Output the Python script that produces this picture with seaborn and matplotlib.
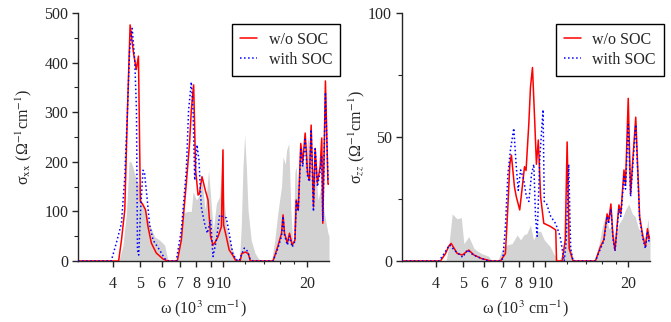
import numpy as np
import pandas as pd
import matplotlib
matplotlib.use('Agg')
import matplotlib.pyplot as plt
import seaborn as sns
from matplotlib.ticker import FixedLocator, FixedFormatter, NullFormatter, MultipleLocator

# ---- data (omega in 10^3 cm^-1, sigma in Ohm^-1 cm^-1) ----
# sigma_xx : grey reference spectrum
gray_w_xx = [3.0, 4.2, 4.35, 4.48, 4.58, 4.65, 4.72, 4.87, 5.0, 5.1, 5.2, 5.43, 5.66, 5.9, 6.15, 6.3, 6.4,
             6.8, 7.0, 7.16, 7.4, 7.67, 7.78, 8.0, 8.2, 8.4, 8.6, 8.85, 9.0, 9.2, 9.44, 9.7, 9.97, 10.05,
             10.25, 10.7, 11.0, 11.3, 11.45, 11.6, 11.77, 11.93, 12.1, 12.27, 12.6, 13.0, 13.4, 13.8,
             14.9, 15.3, 15.7, 16.2, 16.4, 16.7, 16.9, 17.2, 17.5, 17.8, 18.1, 18.3, 18.6, 19.1, 19.5,
             20.2, 20.7, 21.4, 21.9, 22.5, 23.1, 23.8, 24.0]
gray_xx = [0, 0, 30, 96, 200, 200, 190, 163, 150, 115, 110, 73, 49, 42, 32, 5, 0,
           0, 40, 96, 100, 100, 140, 123, 133, 157, 103, 183, 130, 62, 116, 130, 234, 130,
           69, 29, 9, 0, 9, 69, 190, 254, 190, 103, 42, 16, 4, 0,
           0, 40, 96, 151, 210, 195, 224, 237, 103, 29, 180, 190, 123, 237, 190,
           250, 163, 200, 123, 150, 96, 56, 50]

# sigma_xx : without SOC
red_w_xx = [3.0, 4.2, 4.3, 4.42, 4.52, 4.62, 4.75, 4.86, 4.95, 5.03, 5.12, 5.25, 5.36, 5.51, 5.74, 6.07, 6.3,
            6.83, 7.06, 7.36, 7.56, 7.67, 7.82, 7.95, 8.11, 8.2, 8.38, 8.61, 8.81, 9.0, 9.18, 9.35, 9.57,
            9.84, 9.97, 10.02, 10.25, 10.5, 10.8, 11.1, 11.5, 11.65, 12.0, 12.3, 12.5,
            15.1, 15.7, 16.2, 16.4, 16.6, 17.0, 17.3, 17.7, 18.1, 18.3, 18.6, 19.0, 19.3, 19.7, 20.1,
            20.4, 20.7, 21.1, 21.4, 21.8, 22.3, 22.6, 22.8, 23.3, 23.8, 24.0]
red_xx = [0, 0, 42, 103, 304, 476, 420, 386, 413, 120, 115, 103, 69, 36, 16, 4, 0,
          0, 42, 157, 238, 304, 355, 183, 133, 135, 170, 143, 123, 49, 32, 38, 49,
          69, 224, 73, 49, 22, 12, 0, 0, 15, 18, 15, 0,
          0, 29, 56, 93, 56, 36, 56, 32, 42, 123, 103, 237, 197, 258, 177,
          163, 274, 109, 227, 157, 190, 248, 76, 363, 155, 155]

# sigma_xx : with SOC
blue_w_xx = [3.0, 3.95, 4.12, 4.3, 4.42, 4.52, 4.6, 4.7, 4.8, 4.87, 4.91, 4.96, 5.04, 5.14, 5.2, 5.31, 5.43,
             5.59, 5.9, 6.15, 6.3, 6.77, 7.06, 7.36, 7.5, 7.67, 7.78, 7.89, 8.04, 8.17, 8.33, 8.56, 8.76,
             9.0, 9.18, 9.44, 9.7, 9.97, 10.25, 10.5, 10.8, 11.1, 11.4, 11.6, 11.9, 12.2, 12.5, 12.8,
             15.1, 15.7, 16.2, 16.4, 16.6, 17.0, 17.3, 17.7, 18.1, 18.3, 18.6, 19.0, 19.3, 19.7, 20.1,
             20.4, 20.7, 21.1, 21.4, 21.8, 22.3, 22.6, 22.8, 23.3, 23.8, 24.0]
blue_xx = [0, 0, 36, 76, 170, 304, 425, 469, 405, 304, 22, 12, 103, 183, 180, 130, 73,
           42, 22, 5, 0, 0, 62, 183, 304, 361, 304, 163, 234, 204, 109, 76, 56,
           83, 9, 42, 93, 89, 87, 56, 16, 3, 0, 12, 26, 20, 3, 0,
           0, 25, 50, 90, 52, 32, 50, 28, 40, 120, 100, 225, 190, 245, 170,
           160, 265, 100, 226, 150, 180, 210, 80, 340, 165, 160]

# sigma_zz : grey reference spectrum
gray_w_zz = [3.0, 4.35, 4.45, 4.58, 4.77, 4.94, 5.05, 5.26, 5.5, 5.85, 6.2, 6.4, 6.7, 6.86, 7.05, 7.25,
             7.56, 7.89, 8.12, 8.33, 8.55, 8.82, 9.05, 9.33, 9.6, 9.9, 10.4, 10.7, 11.0, 11.2, 11.6,
             11.9, 12.2, 12.6, 13.0, 15.0, 15.6, 16.1, 16.6, 17.0, 17.4, 17.9, 18.5, 19.0, 19.6, 20.1,
             20.7, 21.2, 21.8, 22.5, 23.0, 23.6, 24.0]
gray_zz = [0, 0, 6, 19, 17, 17.5, 7, 9.8, 5, 3, 2, 0, 0, 3, 5.8, 6.5,
           7, 10.5, 8.5, 10.5, 11, 14.5, 8.5, 11.8, 12, 8.5, 5.8, 3, 1, 0, 4,
           18, 8, 1, 0, 0, 5.8, 13.8, 19, 13, 14, 8.5, 15, 17, 21, 23,
           19, 18, 13, 12, 8.5, 17, 8.5]

# sigma_zz : without SOC
red_w_zz = [3.0, 4.15, 4.33, 4.45, 4.54, 4.77, 4.98, 5.26, 5.5, 5.85, 6.2, 6.3, 6.86, 7.15, 7.3, 7.42,
            7.52, 7.71, 7.83, 8.06, 8.2, 8.39, 8.5, 8.7, 8.82, 8.97, 9.15, 9.27, 9.42, 9.6, 9.86, 10.4,
            10.9, 10.97, 11.5, 11.8, 11.99, 12.2, 12.6, 15.2, 15.85, 16.3, 16.76, 16.97, 17.3, 17.6,
            17.9, 18.5, 18.8, 19.3, 19.55, 20.0, 20.4, 20.7, 21.3, 21.7, 22.0, 22.6, 23.1, 23.5, 23.8, 24.0]
red_zz = [0, 0, 3, 6, 7.1, 3.1, 2.4, 4.4, 2.4, 1, 0.3, 0, 0, 3, 22, 39,
          42.7, 30, 26, 20.6, 28, 38, 36.5, 55.5, 70, 78, 55, 39, 48.8, 26, 15.2, 14,
          12.5, 0, 0, 8.5, 48, 5, 0, 0, 5.8, 8.5, 19, 16, 23, 10,
          4.4, 22.6, 19, 36.7, 31, 65.6, 27, 38, 58, 35, 18, 10, 5.8, 13, 9, 10]

# sigma_zz : with SOC
blue_w_zz = [3.0, 4.1, 4.28, 4.48, 4.65, 5.0, 5.2, 5.45, 5.8, 6.2, 6.86, 7.0, 7.15, 7.3, 7.46, 7.67,
             7.82, 7.96, 8.12, 8.33, 8.52, 8.7, 8.9, 9.07, 9.2, 9.33, 9.54, 9.8, 9.9, 10.1, 10.45, 10.9,
             11.3, 11.7, 11.9, 12.15, 12.35, 12.6, 15.2, 15.85, 16.3, 16.76, 16.97, 17.3, 17.6, 17.9,
             18.5, 18.8, 19.3, 19.55, 20.0, 20.4, 20.7, 21.3, 21.7, 22.0, 22.6, 23.1, 23.5, 23.8, 24.0]
blue_zz = [0, 0, 3, 6.5, 4.5, 1.5, 4.5, 2.5, 1.2, 0, 0, 1, 13.8, 35, 44.8, 53.5,
           39, 28.5, 36.7, 33, 26, 24, 35, 39, 18, 10, 42, 61, 24, 23, 18, 15,
           10, 0, 8, 39, 5, 0, 0, 5, 8, 18, 15, 21, 9, 4,
           21, 18, 34, 29, 55, 26, 36, 55, 33, 17, 9, 5, 12, 8, 9]

xtick_vals = [4, 5, 6, 7, 8, 9, 10, 20]
xtick_labels = ['4', '5', '6', '7', '8', '9', '10', '20']
xminor_vals = [12, 14, 16, 18]

# ---- style ----
sns.set_style('ticks')
plt.rcParams['font.family'] = ['Liberation Serif', 'DejaVu Serif']
plt.rcParams['mathtext.fontset'] = 'stix'
plt.rcParams['font.size'] = 11.5
plt.rcParams['axes.linewidth'] = 1.0

fig = plt.figure(figsize=(6.71, 3.22), dpi=100)
ax1 = fig.add_axes([78 / 671, 61 / 322, 251 / 671, 248 / 322])
ax2 = fig.add_axes([401.7 / 671, 61 / 322, 248.3 / 671, 248 / 322])


def draw(ax, gw, gv, rw, rv, bw, bv, ymax, major, minor, ylabel, ylab_x, leg_x):
    ax.fill_between(gw, 0, gv, color='#d3d3d3', lw=0, zorder=1)
    red = pd.DataFrame({'w': rw, 's': rv})
    blue = pd.DataFrame({'w': bw, 's': bv})
    sns.lineplot(data=red, x='w', y='s', ax=ax, color='red', lw=1.1, label='w/o SOC',
                 estimator=None, sort=False, zorder=3)
    sns.lineplot(data=blue, x='w', y='s', ax=ax, color='blue', lw=1.1, ls=':', label='with SOC',
                 estimator=None, sort=False, zorder=4)
    ax.set_xscale('log')
    ax.set_xlim(3, 24)
    ax.set_ylim(0, ymax)
    ax.xaxis.set_major_locator(FixedLocator(xtick_vals))
    ax.xaxis.set_major_formatter(FixedFormatter(xtick_labels))
    ax.xaxis.set_minor_locator(FixedLocator(xminor_vals))
    ax.xaxis.set_minor_formatter(NullFormatter())
    ax.yaxis.set_major_locator(MultipleLocator(major))
    ax.yaxis.set_minor_locator(MultipleLocator(minor))
    ax.tick_params(axis='x', which='major', direction='out', length=4, width=1, pad=7)
    ax.tick_params(axis='x', which='minor', direction='out', length=2.5, width=0.8)
    ax.tick_params(axis='y', which='major', direction='out', length=4, width=1, pad=3)
    ax.tick_params(axis='y', which='minor', direction='out', length=3, width=0.8)
    for s in ['top', 'right']:
        ax.spines[s].set_visible(False)
    ax.set_xlabel('ω (10$^{3}$ cm$^{-1}$)')
    ax.xaxis.set_label_coords(0.5, -0.15)
    ax.set_ylabel(ylabel)
    ax.yaxis.set_label_coords(ylab_x, 0.5)
    leg = ax.legend(loc='upper right', bbox_to_anchor=(leg_x, 0.956), frameon=True, fancybox=False,
                    edgecolor='black', framealpha=1, handlelength=1.1, handletextpad=0.7,
                    borderpad=0.5, labelspacing=0.25, borderaxespad=0)
    leg.get_frame().set_linewidth(1.0)


draw(ax1, gray_w_xx, gray_xx, red_w_xx, red_xx, blue_w_xx, blue_xx, 500, 100, 50,
     'σ$_{\\rm xx}$ (Ω$^{-1}$cm$^{-1}$)', -0.175, 1.044)
draw(ax2, gray_w_zz, gray_zz, red_w_zz, red_zz, blue_w_zz, blue_zz, 100, 50, 25,
     'σ$_{zz}$ (Ω$^{-1}$cm$^{-1}$)', -0.14, 1.056)

fig.savefig('out.png', dpi=100)
